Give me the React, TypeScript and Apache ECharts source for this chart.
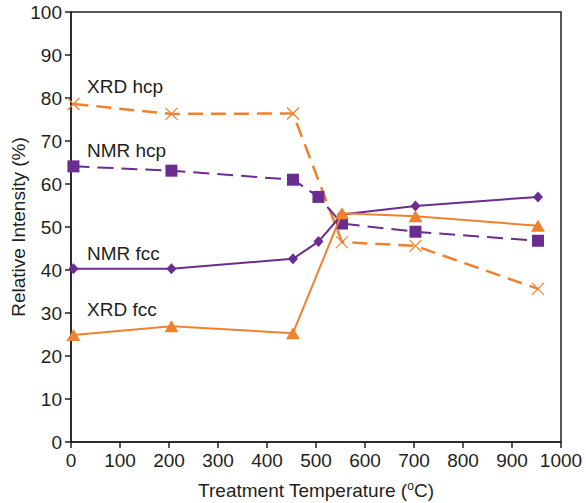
import React, { useEffect, useRef } from "react";
import * as echarts from "echarts";

const temps = [5, 205, 453, 505, 553, 703, 953];
const nmrFcc = [40.3, 40.3, 42.6, 46.6, 52.9, 54.9, 57.0];
const nmrHcp = [64.1, 63.1, 61.0, 57.0, 50.8, 48.9, 46.8];
const xrdHcpT = [5, 205, 453, 553, 703, 953];
const xrdHcp = [78.6, 76.3, 76.4, 46.5, 45.6, 35.6];
const xrdFccT = [5, 205, 453, 553, 703, 953];
const xrdFcc = [24.9, 26.9, 25.3, 53.2, 52.5, 50.3];

const seriesLabels = ["XRD hcp", "NMR hcp", "NMR fcc", "XRD fcc"];

const ORANGE = "#f0812e";
const PURPLE = "#6b2c91";
const INK = "#231f20";
const FONT = "Liberation Sans, Arial, sans-serif";
const FS = 19;

const pair = (xs: number[], ys: number[]) => xs.map((x, i) => [x, ys[i]]);

export default function App() {
  const ref = useRef<HTMLDivElement>(null);
  useEffect(() => {
    if (!ref.current) return;
    const chart = echarts.init(ref.current, null, { renderer: "svg" });
    const axisCommon = {
      axisLine: { show: true, lineStyle: { color: INK, width: 1.5 } },
      axisTick: { show: true, inside: false, length: 6, lineStyle: { color: INK, width: 1.5 } },
      splitLine: { show: false },
      axisLabel: { color: INK, fontSize: FS, fontFamily: FONT },
      nameTextStyle: { color: INK, fontSize: FS, fontFamily: FONT },
      nameMoveOverlap: false,
    };
    chart.setOption({
      animation: false,
      backgroundColor: "#ffffff",
      grid: {
        left: 71,
        right: 25,
        top: 12,
        bottom: 61,
        show: true,
        borderColor: INK,
        borderWidth: 1.5,
        containLabel: false,
        outerBoundsMode: "none",
      },
      xAxis: {
        type: "value",
        min: 0,
        max: 1000,
        interval: 100,
        name: "Treatment Temperature ({sup|o}C)",
        nameLocation: "middle",
        nameGap: 38,
        ...axisCommon,
        axisLabel: { ...axisCommon.axisLabel, margin: 9, formatter: (v: number) => String(v) },
        nameTextStyle: {
          ...axisCommon.nameTextStyle,
          rich: {
            sup: { fontSize: 12, verticalAlign: "top", color: INK, fontFamily: FONT, padding: [0, 0, 9, 0] },
          },
        },
      },
      yAxis: {
        type: "value",
        min: 0,
        max: 100,
        interval: 10,
        name: "Relative Intensity (%)",
        nameLocation: "middle",
        nameGap: 43,
        ...axisCommon,
        axisLabel: { ...axisCommon.axisLabel, margin: 9 },
      },
      series: [
        {
          name: "XRD hcp",
          type: "line",
          data: pair(xrdHcpT, xrdHcp),
          symbol: "path://M0,0L10,10M10,0L0,10",
          symbolSize: 12,
          lineStyle: { color: ORANGE, width: 2.5, type: [15, 8] },
          itemStyle: { color: "rgba(0,0,0,0)", borderColor: ORANGE, borderWidth: 1.2 },
          z: 2,
        },
        {
          name: "NMR hcp",
          type: "line",
          data: pair(temps, nmrHcp),
          symbol: "rect",
          symbolSize: 12,
          lineStyle: { color: PURPLE, width: 2, type: [16, 8] },
          itemStyle: { color: PURPLE },
          z: 3,
        },
        {
          name: "NMR fcc",
          type: "line",
          data: pair(temps, nmrFcc),
          symbol: "diamond",
          symbolSize: [10, 11],
          lineStyle: { color: PURPLE, width: 2 },
          itemStyle: { color: PURPLE },
          z: 4,
        },
        {
          name: "XRD fcc",
          type: "line",
          data: pair(xrdFccT, xrdFcc),
          symbol: "triangle",
          symbolSize: [14, 12],
          lineStyle: { color: ORANGE, width: 2 },
          itemStyle: { color: ORANGE },
          z: 5,
        },
      ],
      graphic: [
        { type: "text", left: 87, top: 77, style: { text: seriesLabels[0], fill: INK, fontSize: FS, fontFamily: FONT } },
        { type: "text", left: 87, top: 141, style: { text: seriesLabels[1], fill: INK, fontSize: FS, fontFamily: FONT } },
        { type: "text", left: 87, top: 244, style: { text: seriesLabels[2], fill: INK, fontSize: FS, fontFamily: FONT } },
        { type: "text", left: 87, top: 300, style: { text: seriesLabels[3], fill: INK, fontSize: FS, fontFamily: FONT } },
      ],
    });
    return () => chart.dispose();
  }, []);
  return (
    <div
      ref={ref}
      style={{ position: "absolute", left: 0, top: 0, width: 586, height: 503, background: "#fff" }}
    />
  );
}
